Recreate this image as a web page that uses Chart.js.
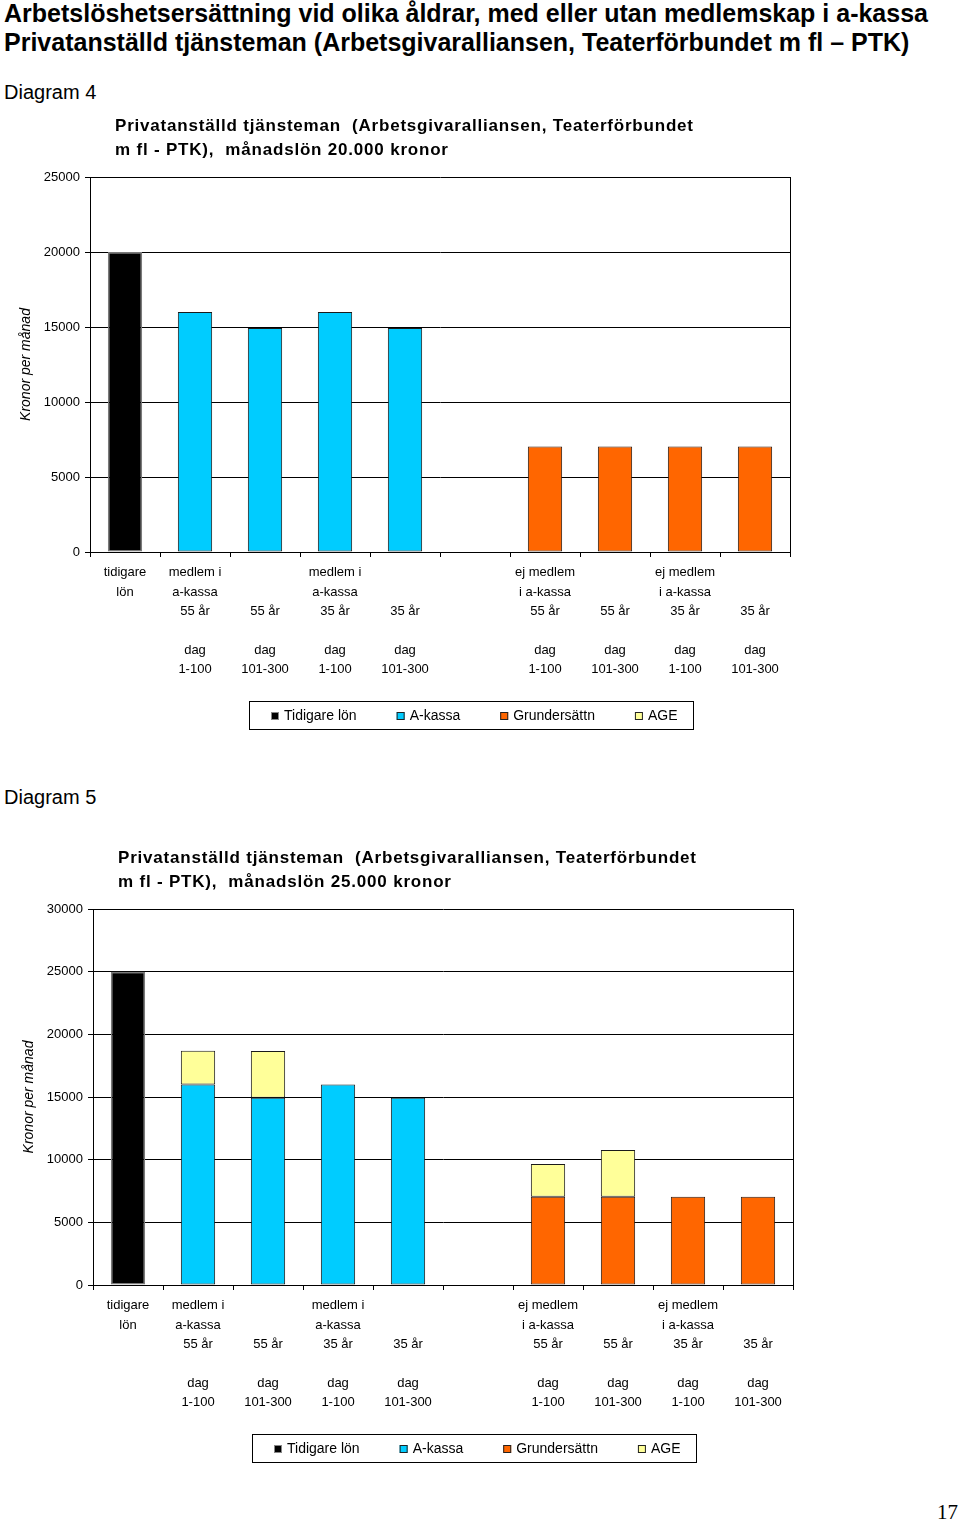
<!DOCTYPE html>
<html>
<head>
<meta charset="utf-8">
<script src="https://cdn.jsdelivr.net/npm/chart.js@4/dist/chart.umd.min.js"></script>
<style>
  body { margin: 0; background: #fff; font-family: "Liberation Sans", Arial, sans-serif; }
  #page { position: relative; width: 960px; height: 1522px; overflow: hidden; }
  .head { position: absolute; left: 4px; font-weight: bold; font-size: 25px; white-space: nowrap; color: #000; }
  .diag { position: absolute; left: 4px; font-size: 20px; color: #000; }
  canvas { position: absolute; left: 0; }
  #pageno { position: absolute; right: 2px; top: 1500px; font-family: "Liberation Serif", serif; font-size: 21px; }
</style>
</head>
<body>
<div id="page">
  <div class="head" style="top:-1px">Arbetslöshetsersättning vid olika åldrar, med eller utan medlemskap i a-kassa</div>
  <div class="head" style="top:28px">Privatanställd tjänsteman (Arbetsgivaralliansen, Teaterförbundet m fl – PTK)</div>
  <div class="diag" style="top:81px">Diagram 4</div>
  <canvas id="chart4" width="960" height="630" style="top:110px"></canvas>
  <div class="diag" style="top:786px">Diagram 5</div>
  <canvas id="chart5" width="960" height="630" style="top:840px"></canvas>
  <div id="pageno">17</div>
</div>
<script>
const categories = [
  ['tidigare', 'lön'],
  ['medlem i', 'a-kassa', '55 år', '', 'dag', '1-100'],
  ['', '', '55 år', '', 'dag', '101-300'],
  ['medlem i', 'a-kassa', '35 år', '', 'dag', '1-100'],
  ['', '', '35 år', '', 'dag', '101-300'],
  [''],
  ['ej medlem', 'i a-kassa', '55 år', '', 'dag', '1-100'],
  ['', '', '55 år', '', 'dag', '101-300'],
  ['ej medlem', 'i a-kassa', '35 år', '', 'dag', '1-100'],
  ['', '', '35 år', '', 'dag', '101-300'],
];
const seriesNames = ['Tidigare lön', 'A-kassa', 'Grundersättn', 'AGE'];

// Diagram 4, månadslön 20.000
const tidigareLon4 = [20000, null, null, null, null, null, null, null, null, null];
const akassa4 = [null, 16000, 14940, 16000, 14940, null, null, null, null, null];
const grund4 = [null, null, null, null, null, null, 7040, 7040, 7040, 7040];
const age4 = [null, null, null, null, null, null, null, null, null, null];
const yTicks4 = { max: 25000, step: 5000 };

// Diagram 5, månadslön 25.000
const tidigareLon5 = [25000, null, null, null, null, null, null, null, null, null];
const akassa5 = [null, 16000, 14940, 16000, 14940, null, null, null, null, null];
const grund5 = [null, null, null, null, null, null, 7040, 7040, 7040, 7040];
const age5 = [null, 2700, 3740, null, null, null, 2620, 3730, null, null];
const yTicks5 = { max: 30000, step: 5000 };

const colors = ['#000000', '#00CCFF', '#FF6600', '#FFFF99'];
const borders = ['#7a7a7a', '#1a1a1a', '#2a1a10', '#1a1a1a'];

const frameAndText = {
  id: 'frameAndText',
  afterDraw(chart, args, opts) {
    const ctx = chart.ctx;
    const a = chart.chartArea;
    ctx.save();
    // right edge of plot
    ctx.strokeStyle = '#000';
    ctx.lineWidth = 1;
    ctx.beginPath();
    ctx.moveTo(Math.round(a.right) + 0.5, a.top);
    ctx.lineTo(Math.round(a.right) + 0.5, a.bottom);
    ctx.stroke();

    // title above plot
    ctx.fillStyle = '#000';
    ctx.font = 'bold 17px "Liberation Sans", Arial, sans-serif';
    ctx.letterSpacing = '0.8px';
    ctx.textBaseline = 'middle';
    ctx.textAlign = 'left';
    ctx.fillText(opts.lines[0], a.left + 25, a.top - 51);
    ctx.fillText(opts.lines[1], a.left + 25, a.top - 27);
    ctx.letterSpacing = '0px';

    // legend box
    const bx = a.left + 159, by = a.bottom + 149, bw = 444, bh = 28;
    ctx.strokeRect(bx + 0.5, by + 0.5, bw, bh);
    ctx.font = '14px "Liberation Sans", Arial, sans-serif';
    let x = bx + 22;
    const cy = by + bh / 2 + 1;
    chart.data.datasets.forEach((ds) => {
      ctx.fillStyle = ds.backgroundColor;
      ctx.fillRect(x, cy - 4, 8, 8);
      ctx.strokeStyle = ds.label === 'Tidigare lön' ? '#888' : '#222';
      ctx.strokeRect(x + 0.5, cy - 3.5, 7, 7);
      ctx.fillStyle = '#000';
      ctx.fillText(ds.label, x + 13, cy);
      x += 13 + ctx.measureText(ds.label).width + 40;
    });
    ctx.restore();
  }
};

function makeChart(id, series, yTicks, titleLines, padLeft, padTop, xHeight) {
  const ctx = document.getElementById(id).getContext('2d');
  const datasets = series.map((values, i) => ({
    label: seriesNames[i],
    data: values,
    backgroundColor: colors[i],
    borderColor: borders[i],
    borderWidth: i === 0 ? 1.5 : 1,
    borderSkipped: false,
    categoryPercentage: 1,
    barPercentage: 0.49,
  }));

  return new Chart(ctx, {
    type: 'bar',
    data: { labels: categories, datasets: datasets },
    options: {
      responsive: false,
      animation: false,
      devicePixelRatio: 1,
      layout: { padding: { left: padLeft, right: 170 - padLeft, top: padTop, bottom: 0 } },
      plugins: {
        legend: { display: false },
        tooltip: { enabled: false },
        frameAndText: { lines: titleLines },
      },
      scales: {
        x: {
          stacked: true,
          grid: { offset: true, drawOnChartArea: false, drawTicks: true, tickLength: 5, tickColor: '#000' },
          border: { color: '#000', width: 1 },
          ticks: {
            autoSkip: false, maxRotation: 0, minRotation: 0, padding: 6, color: '#000',
            font: { family: '"Liberation Sans", Arial, sans-serif', size: 13, lineHeight: 1.49 },
          },
          afterFit: (scale) => { scale.height = xHeight; },
        },
        y: {
          stacked: true,
          min: 0,
          max: yTicks.max,
          grid: { color: '#000', lineWidth: 1, tickLength: 5, tickColor: '#000' },
          border: { color: '#000', width: 1 },
          ticks: {
            stepSize: yTicks.step, padding: 5, color: '#000',
            font: { family: '"Liberation Sans", Arial, sans-serif', size: 13 },
            callback: (value) => String(value),
          },
          title: {
            display: true, text: 'Kronor per månad', color: '#000',
            padding: { top: 18, bottom: 0 },
            font: { family: '"Liberation Sans", Arial, sans-serif', size: 14, style: 'italic' },
          },
          afterFit: (scale) => { scale.width = 90; },
        },
      },
    },
    plugins: [frameAndText],
  });
}

makeChart('chart4', [tidigareLon4, akassa4, grund4, age4], yTicks4,
  ['Privatanställd tjänsteman  (Arbetsgivaralliansen, Teaterförbundet', 'm fl - PTK),  månadslön 20.000 kronor'],
  0, 67, 188);

makeChart('chart5', [tidigareLon5, akassa5, grund5, age5], yTicks5,
  ['Privatanställd tjänsteman  (Arbetsgivaralliansen, Teaterförbundet', 'm fl - PTK),  månadslön 25.000 kronor'],
  3, 69, 185);
</script>
</body>
</html>
